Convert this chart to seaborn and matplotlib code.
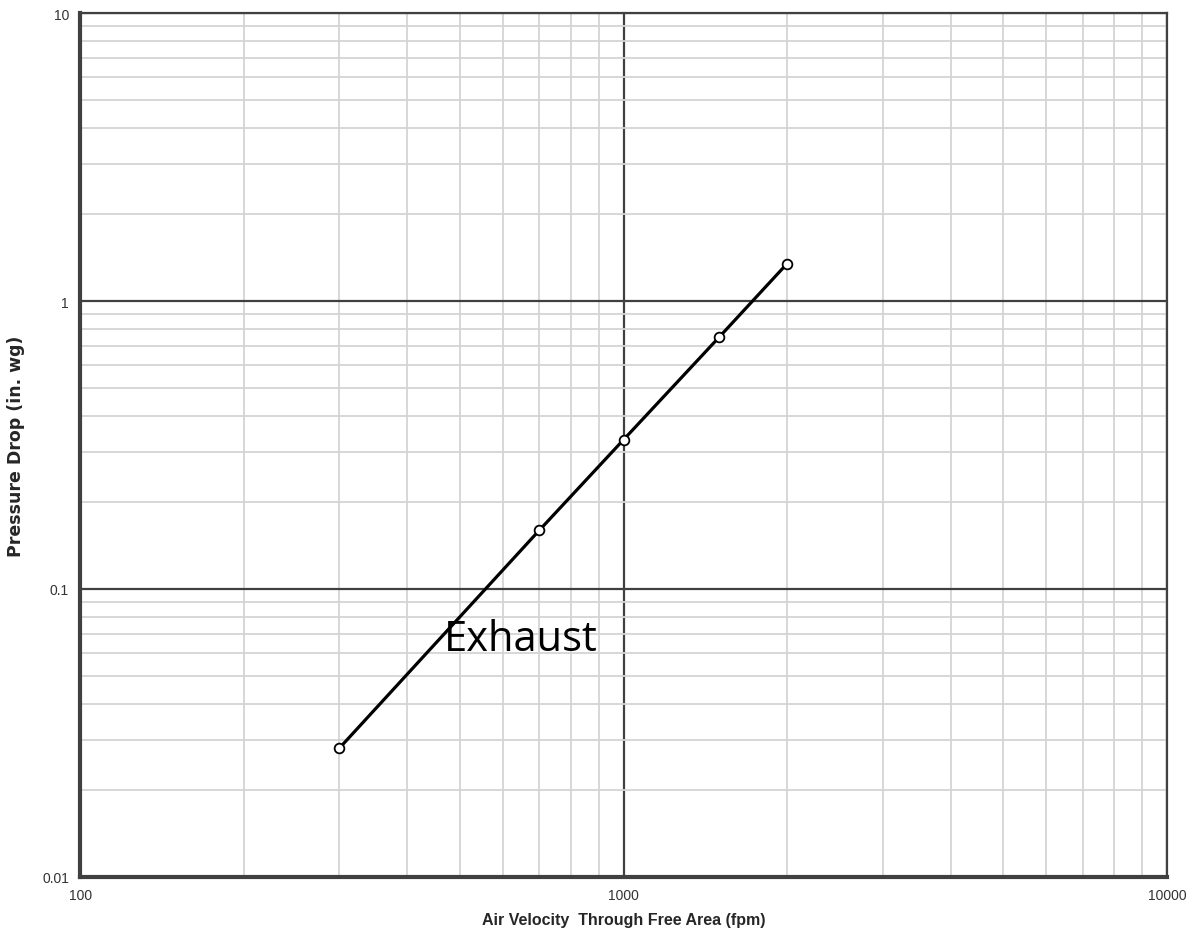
import numpy as np
import pandas as pd
import seaborn as sb
import matplotlib.pyplot as plt
from matplotlib.ticker import LogLocator, FixedLocator, NullFormatter

# data
velocity = [300, 700, 1000, 1500, 2000]
pressure = [0.028, 0.16, 0.33, 0.75, 1.35]
xTicks = [100, 1000, 10000]
xTickLabels = ['100', '1000', '10000']
yTicks = [0.01, 0.1, 1, 10]
yTickLabels = ['0.01', '0.1', '1', '10']

df = pd.DataFrame({'velocity': velocity, 'pressure': pressure})

sb.set_style('white')
plt.rcParams['font.family'] = ['Liberation Sans', 'DejaVu Sans']

fig = plt.figure(figsize=(11.95, 9.45), dpi=100)
ax = fig.add_axes([0.067, 0.071, 0.9096, 0.914])
ax.set_xscale('log')
ax.set_yscale('log')
ax.set_xlim(100, 10000)
ax.set_ylim(0.01, 10)

# minor grid light, major grid dark
ax.xaxis.set_minor_locator(LogLocator(base=10, subs=np.arange(2, 10)))
ax.yaxis.set_minor_locator(LogLocator(base=10, subs=np.arange(2, 10)))
ax.xaxis.set_minor_formatter(NullFormatter())
ax.yaxis.set_minor_formatter(NullFormatter())
ax.grid(which='minor', color='#d4d4d4', linewidth=1.3)
ax.grid(which='major', color='#404040', linewidth=1.6)
ax.set_axisbelow(True)

ax.xaxis.set_major_locator(FixedLocator(xTicks))
ax.yaxis.set_major_locator(FixedLocator(yTicks))
ax.set_xticklabels(xTickLabels)
ax.set_yticklabels(yTickLabels)
ax.tick_params(which='major', length=3, width=1.5, color='#404040',
               labelsize=10, labelcolor='#333333', pad=5)
ax.tick_params(which='minor', length=0)

sb.lineplot(data=df, x='velocity', y='pressure', ax=ax, color='black',
            linewidth=2.3, marker='o', markersize=7,
            markerfacecolor='white', markeredgecolor='black',
            markeredgewidth=1.3)

for side in ['left', 'bottom']:
    ax.spines[side].set_color('#404040')
    ax.spines[side].set_linewidth(3)
for side in ['top', 'right']:
    ax.spines[side].set_color('#404040')
    ax.spines[side].set_linewidth(1.6)

ax.set_xlabel('Air Velocity  Through Free Area (fpm)', fontsize=11.5,
              fontweight='bold', labelpad=7)
ax.set_ylabel('Pressure Drop (in. wg)', fontsize=12.5, fontweight='bold',
              family=['DejaVu Sans'])
ax.yaxis.set_label_coords(-0.051, 0.5)

ax.text(648, 0.067, 'Exhaust', fontsize=30, family=['Open Sans', 'DejaVu Sans'],
        ha='center', va='center', color='black')

plt.savefig('out.png', dpi=100)
